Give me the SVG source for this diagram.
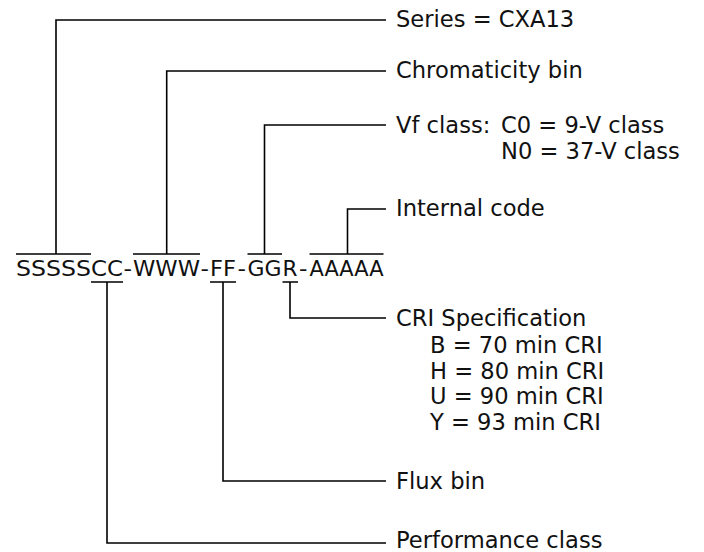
<svg xmlns="http://www.w3.org/2000/svg" width="704" height="552" viewBox="0 0 704 552">
<style>
text{font-family:"DejaVu Sans","Verdana",sans-serif;font-size:22.6px;fill:#111}
#code text{font-size:22px}
.ln{fill:none;stroke:#000;stroke-width:1.6}
</style>
<rect width="704" height="552" fill="#fff"/>
<g id="code">
<text x="16" y="276" textLength="75" lengthAdjust="spacingAndGlyphs">SSSSS</text>
<text x="91" y="276" textLength="32" lengthAdjust="spacingAndGlyphs">CC</text>
<text x="123.5" y="276" textLength="8.5" lengthAdjust="spacingAndGlyphs">-</text>
<text x="133" y="276" textLength="67" lengthAdjust="spacingAndGlyphs">WWW</text>
<text x="200.5" y="276" textLength="8.5" lengthAdjust="spacingAndGlyphs">-</text>
<text x="210" y="276" textLength="26" lengthAdjust="spacingAndGlyphs">FF</text>
<text x="237.5" y="276" textLength="8.5" lengthAdjust="spacingAndGlyphs">-</text>
<text x="247.5" y="276" textLength="34" lengthAdjust="spacingAndGlyphs">GG</text>
<text x="282.5" y="276" textLength="15" lengthAdjust="spacingAndGlyphs">R</text>
<text x="299" y="276" textLength="8.5" lengthAdjust="spacingAndGlyphs">-</text>
<text x="309.5" y="276" textLength="74" lengthAdjust="spacingAndGlyphs">AAAAA</text>
</g>
<g id="connectors" class="ln">
<path d="M16,254H91 M133,254H200 M247.5,254H282 M309.5,254H383.5"/>
<path d="M91,282H123 M210,282H236 M282.5,282H298"/>
<path d="M56,254V20H386"/>
<path d="M166.7,254V71H386"/>
<path d="M264.5,254V125H386"/>
<path d="M347.5,254V209H386"/>
<path d="M290,282V318H386"/>
<path d="M223,282V481H386"/>
<path d="M107,282V543H386"/>
</g>
<g id="series"><text x="396" y="27">Series = CXA13</text></g>
<g id="chromaticity"><text x="396" y="78">Chromaticity bin</text></g>
<g id="vf-class"><text x="396" y="133">Vf class: <tspan x="501">C0 = 9-V class</tspan></text><text x="501" y="159">N0 = 37-V class</text></g>
<g id="internal"><text x="396" y="216">Internal code</text></g>
<g id="cri"><text x="396" y="326">CRI Specification</text>
<text x="430" y="353">B = 70 min CRI</text>
<text x="430" y="378.5">H = 80 min CRI</text>
<text x="430" y="404">U = 90 min CRI</text>
<text x="430" y="429.5">Y = 93 min CRI</text></g>
<g id="flux"><text x="396" y="489">Flux bin</text></g>
<g id="performance"><text x="396" y="548">Performance class</text></g>
</svg>
